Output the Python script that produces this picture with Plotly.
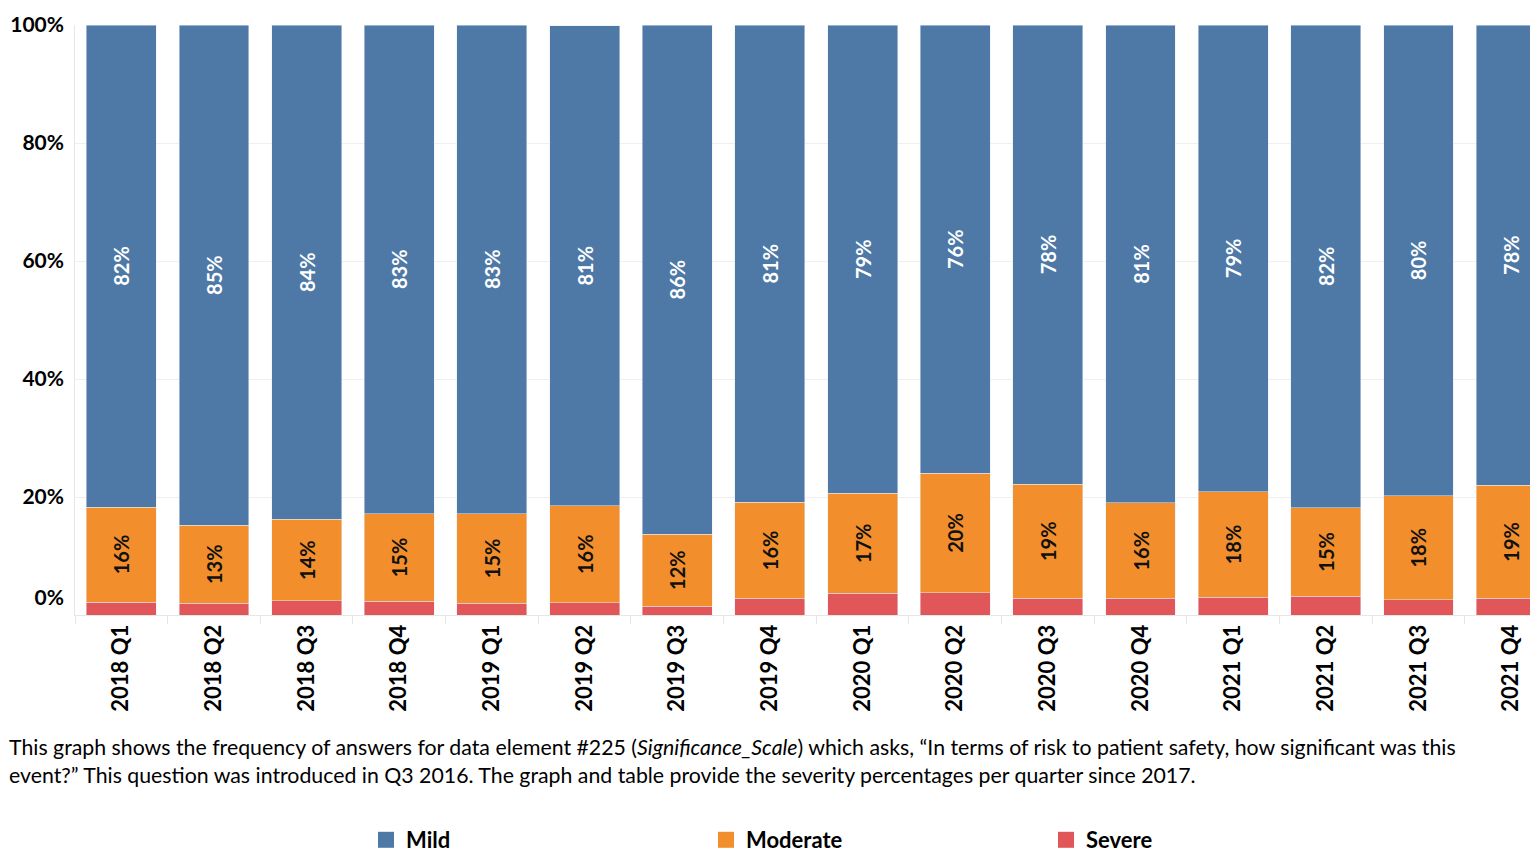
import plotly.graph_objects as go

quarters = ["2018 Q1", "2018 Q2", "2018 Q3", "2018 Q4",
            "2019 Q1", "2019 Q2", "2019 Q3", "2019 Q4",
            "2020 Q1", "2020 Q2", "2020 Q3", "2020 Q4",
            "2021 Q1", "2021 Q2", "2021 Q3", "2021 Q4"]
severe = [2.2, 2.0, 2.4, 2.3, 2.0, 2.1, 1.5, 2.8, 3.7, 3.8, 2.8, 2.8, 3.0, 3.2, 2.6, 2.8]
moderate = [16.1, 13.2, 13.8, 14.9, 15.2, 16.4, 12.2, 16.3, 16.9, 20.2, 19.4, 16.2, 17.9, 15.0, 17.6, 19.2]
mild = [81.7, 84.8, 83.8, 82.8, 82.8, 81.4, 86.3, 80.9, 79.4, 76.0, 77.8, 81.0, 79.1, 81.8, 79.8, 78.0]

ytick_vals = [20, 40, 60, 80, 100]
ylabel_vals = [3, 20, 40, 60, 80, 100]
ylabel_text = ["0%", "20%", "40%", "60%", "80%", "100%"]

C_MILD = "#4E79A7"
C_MOD = "#F28E2B"
C_SEV = "#E15759"
FONT = "Lato"

fig = go.Figure()
fig.add_trace(go.Bar(x=quarters, y=severe, name="Severe", marker_color=C_SEV,
                     showlegend=False, hoverinfo="skip"))
fig.add_trace(go.Bar(x=quarters, y=moderate, name="Moderate", marker_color=C_MOD,
                     text=[f"{v:.0f}%" for v in moderate], textposition="inside",
                     insidetextanchor="middle", textangle=-90,
                     textfont=dict(color="#111111", size=20, family=FONT, weight="bold"),
                     showlegend=False))
fig.add_trace(go.Bar(x=quarters, y=mild, name="Mild", marker_color=C_MILD,
                     text=[f"{v:.0f}%" for v in mild], textposition="inside",
                     insidetextanchor="middle", textangle=-90,
                     textfont=dict(color="white", size=20, family=FONT, weight="bold"),
                     showlegend=False))

# helper trace so the label axis is drawn
fig.add_trace(go.Scatter(x=quarters, y=severe, yaxis="y2", mode="markers",
                         marker=dict(opacity=0), showlegend=False, hoverinfo="skip"))

# legend entries
for nm, col in [("Mild", C_MILD), ("Moderate", C_MOD), ("Severe", C_SEV)]:
    fig.add_trace(go.Scatter(x=[None], y=[None], mode="markers", name=nm,
                             marker=dict(symbol="square", size=20, color=col)))

W, H = 1530, 846
L, T, B = 67, 17, 239
plot_w = W - L
plot_h = H - T - B
base = H - B  # figure y of 0%

def py(fig_y):
    return (base - fig_y) / plot_h

def px(fig_x):
    return (fig_x - L) / plot_w

fig.update_layout(
    width=W, height=H,
    margin=dict(l=L, r=0, t=T, b=B, autoexpand=False),
    barmode="stack",
    bargap=0.245,
    plot_bgcolor="white",
    paper_bgcolor="white",
    font=dict(family=FONT, color="#000000"),
    xaxis=dict(range=[-0.5, 15.29], tickangle=-90, ticks="outside", tickson="boundaries",
               ticklen=8, tickcolor="#e6e6e6", showline=True, linecolor="#e6e6e6",
               tickfont=dict(size=22, family=FONT, weight="bold", color="#000")),
    yaxis=dict(range=[0, 100], tickvals=ytick_vals, showticklabels=False,
               showgrid=True, gridcolor="#efefef", showline=True, linecolor="#e6e6e6",
               zeroline=False),
    yaxis2=dict(overlaying="y", side="left", range=[0, 100], tickvals=ylabel_vals,
                ticktext=ylabel_text, showgrid=False, zeroline=False, showline=False,
                ticklabelstandoff=10,
                tickfont=dict(size=21, family=FONT, weight="bold", color="#000")),
    legend=dict(orientation="h", traceorder="normal", x=px(358), xanchor="left",
                y=py(832), yanchor="middle", entrywidth=295,
                font=dict(size=22, family=FONT, weight="bold", color="#000"),
                itemclick=False),
)

fig.add_annotation(
    xref="paper", yref="paper",
    x=px(-1), y=py(724),
    xanchor="left", yanchor="top", align="left", showarrow=False,
    text=("This graph shows the frequency of answers for data element #225 (<i>Significance_Scale</i>) "
          "which asks, \u201cIn terms of risk to patient safety, how significant was this<br>"
          "event?\u201d This question was introduced in Q3 2016. The graph and table provide the "
          "severity percentages per quarter since 2017."),
    font=dict(size=21.3, family=FONT, color="#000"),
)

fig.write_html("out.html")
